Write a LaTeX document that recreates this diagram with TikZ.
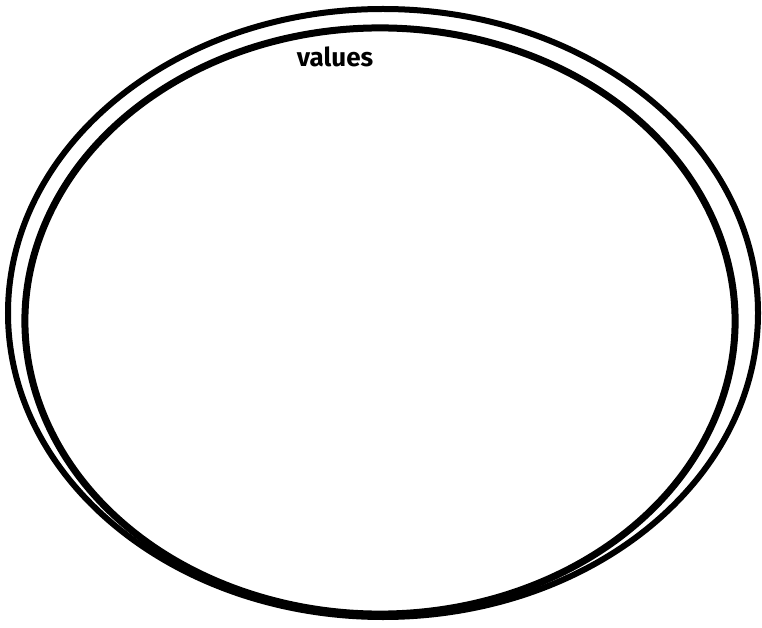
\documentclass[tikz,border=0pt]{standalone}
\usepackage{fontspec}
\setmainfont{Fira Sans}
\usetikzlibrary{positioning}

\begin{document}
\begin{tikzpicture}[x=1pt, y=1pt, pen/.style={draw=black, line width=6pt, line cap=round}, label text/.style={font=\fontsize{26}{28}\selectfont\bfseries}]
   \useasboundingbox (0,0) rectangle (762,627);
   % outer loop
   \coordinate (c_out) at (383,314);
   \draw[pen] (c_out) ellipse [x radius=375, y radius=304];
   % inner loop, ends at the top
   \coordinate (c_in) at (380,306);
   \draw[pen, line width=7pt] ([shift={(-290:355 and 293)}]c_in) arc [start angle=-290, end angle=70, x radius=355, y radius=293];
   % label
   \node[label text] (values) at (335,570) {values};
\end{tikzpicture}
\end{document}
